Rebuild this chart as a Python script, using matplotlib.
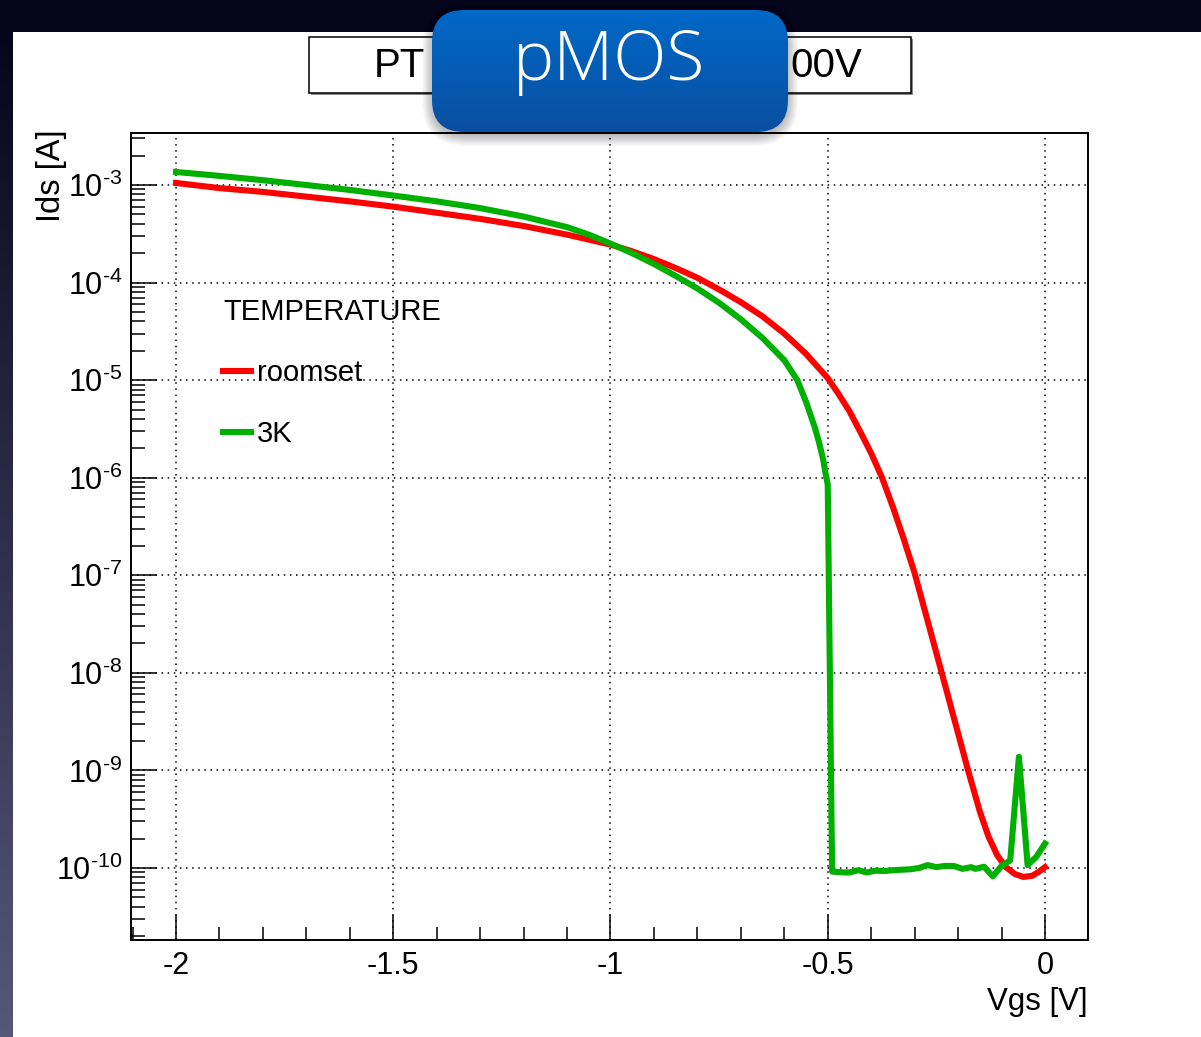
import numpy as np
import matplotlib
matplotlib.use("Agg")
import matplotlib.pyplot as plt
from matplotlib.patches import Rectangle, FancyBboxPatch
from matplotlib.ticker import FixedLocator, MultipleLocator, LogLocator, NullFormatter, FuncFormatter

plt.rcParams['font.family'] = ['Liberation Sans', 'DejaVu Sans']
plt.rcParams['mathtext.fontset'] = 'custom'
plt.rcParams['mathtext.rm'] = 'Liberation Sans'
plt.rcParams['mathtext.it'] = 'Liberation Sans'
plt.rcParams['mathtext.default'] = 'regular'

# ---------------- data ----------------
vgs_room = [-2.0, -1.9, -1.8, -1.7, -1.6, -1.5, -1.4, -1.3, -1.2, -1.1, -1.0,
            -0.95, -0.9, -0.85, -0.8, -0.75, -0.7, -0.65, -0.6, -0.55, -0.5,
            -0.475, -0.45, -0.425, -0.4, -0.375, -0.35, -0.325, -0.3, -0.25,
            -0.2, -0.177, -0.15, -0.13, -0.11, -0.09, -0.07, -0.05, -0.03,
            -0.015, 0.0]
ids_room = [1.05e-3, 9.3e-4, 8.5e-4, 7.6e-4, 6.8e-4, 6.0e-4, 5.2e-4, 4.5e-4,
            3.8e-4, 3.1e-4, 2.45e-4, 2.09e-4, 1.74e-4, 1.41e-4, 1.12e-4, 8.5e-5,
            6.3e-5, 4.5e-5, 3.0e-5, 1.86e-5, 1.05e-5, 7.2e-6, 4.8e-6, 2.95e-6,
            1.78e-6, 1.0e-6, 5.0e-7, 2.35e-7, 1.05e-7, 1.6e-8, 2.4e-9, 1.0e-9,
            3.8e-10, 2.1e-10, 1.35e-10, 1.02e-10, 8.7e-11, 8.1e-11, 8.3e-11,
            9.1e-11, 1.02e-10]

vgs_3k = [-2.0, -1.9, -1.8, -1.7, -1.6, -1.5, -1.4, -1.3, -1.2, -1.1, -1.05,
          -1.0, -0.95, -0.9, -0.85, -0.8, -0.75, -0.7, -0.65, -0.6, -0.57,
          -0.55, -0.53, -0.52, -0.51, -0.505, -0.5, -0.49, -0.48, -0.46, -0.45,
          -0.43, -0.41, -0.39, -0.37, -0.35, -0.33, -0.31, -0.29, -0.27,
          -0.25, -0.23, -0.21, -0.19, -0.17, -0.16, -0.14, -0.12, -0.1,
          -0.08, -0.06, -0.04, -0.02, 0.0]
ids_3k = [1.36e-3, 1.24e-3, 1.12e-3, 1.0e-3, 8.9e-4, 7.8e-4, 6.8e-4, 5.8e-4,
          4.75e-4, 3.7e-4, 3.1e-4, 2.51e-4, 2.0e-4, 1.55e-4, 1.17e-4, 8.7e-5,
          6.2e-5, 4.2e-5, 2.7e-5, 1.6e-5, 1.0e-5, 6.0e-6, 3.3e-6, 2.3e-6,
          1.5e-6, 1.1e-6, 8.5e-7, 9.2e-11, 9.1e-11, 9.0e-11, 9.0e-11, 9.5e-11,
          9.0e-11, 9.4e-11, 9.3e-11, 9.5e-11, 9.6e-11, 9.7e-11, 1.0e-10,
          1.07e-10, 1.02e-10, 1.05e-10, 1.05e-10, 9.8e-11, 1.02e-10, 9.8e-11,
          1.03e-10, 8.2e-11, 1.05e-10, 1.2e-10, 1.38e-9, 1.07e-10, 1.3e-10,
          1.78e-10]

series_labels = ["roomset", "3K"]
series_colors = ["#ff0000", "#00b000"]
legend_title = "TEMPERATURE"
x_ticks = [-2.0, -1.5, -1.0, -0.5, 0.0]
x_ticklabels = ["-2", "-1.5", "-1", "-0.5", "0"]
y_decades = [-10, -9, -8, -7, -6, -5, -4, -3]

W, H = 1201, 1037
fig = plt.figure(figsize=(W / 100, H / 100), dpi=100, facecolor='white')

# ---------------- slide background ----------------
bg = fig.add_axes([0, 0, 1, 1], zorder=-10)
bg.axis('off')
bg.add_patch(Rectangle((0, 0), W, 32, facecolor='#05061a', edgecolor='none'))
grad = np.linspace(0, 1, 256).reshape(-1, 1)
top_c = np.array([0.02, 0.024, 0.10])
bot_c = np.array([0.34, 0.34, 0.47])
img = top_c[None, None, :] * (1 - grad[:, :, None]) + bot_c[None, None, :] * grad[:, :, None]
bg.imshow(img, extent=(0, 12.5, H, 32), aspect='auto', interpolation='bilinear')
bg.set_xlim(0, W)
bg.set_ylim(H, 0)

# title box (partly hidden)
bg.add_patch(Rectangle((311, 39), 602, 56, facecolor='#888888', edgecolor='none'))
bg.add_patch(Rectangle((309, 37), 602, 56, facecolor='white', edgecolor='black', lw=1.1))
bg.text(374, 66, "PT", fontsize=29, ha='left', va='center')
bg.text(862, 66, "00V", fontsize=29, ha='right', va='center')

# ---------------- main plot ----------------
ax = fig.add_axes([131 / W, 1 - 940 / H, (1088 - 131) / W, (940 - 133) / H], zorder=1)
ax.set_facecolor('none')
l1, = ax.plot(vgs_room, ids_room, color=series_colors[0], lw=4.4,
              solid_joinstyle='round', zorder=5)
l2, = ax.plot(vgs_3k, ids_3k, color=series_colors[1], lw=4.4,
              solid_joinstyle='round', zorder=6)
ax.set_yscale('log')
ax.set_xlim(-2.1036, 0.099)
ax.set_ylim(10 ** -10.738, 10 ** -2.467)

ax.xaxis.set_major_locator(FixedLocator(x_ticks))
ax.set_xticklabels(x_ticklabels)
ax.xaxis.set_minor_locator(MultipleLocator(0.1))
ax.yaxis.set_major_locator(FixedLocator([10.0 ** d for d in y_decades]))
ax.yaxis.set_major_formatter(FuncFormatter(
    lambda v, p: r'$\mathdefault{10^{\text{-}%d}}$' % abs(round(np.log10(v)))))
ax.yaxis.set_minor_locator(LogLocator(base=10, subs=np.arange(2, 10), numticks=30))
ax.yaxis.set_minor_formatter(NullFormatter())

ax.tick_params(axis='x', which='major', direction='in', length=18, width=1.1, labelsize=22, pad=8)
ax.tick_params(axis='x', which='minor', direction='in', length=9.5, width=1.1)
ax.tick_params(axis='y', which='major', direction='in', length=19, width=1.1, labelsize=22, pad=6)
ax.tick_params(axis='y', which='minor', direction='in', length=10, width=1.1)
for s in ax.spines.values():
    s.set_linewidth(1.4)
ax.grid(True, which='major', color='black', linestyle=(0, (1, 3)), lw=1.1)

ax.set_xlabel("Vgs [V]", fontsize=22.5, loc='right', labelpad=4)
ax.set_ylabel("Ids [A]", fontsize=23.5, loc='top')
ax.yaxis.set_label_coords((67 - 131) / (1088 - 131), 1.004)

leg = ax.legend([l1, l2], series_labels, title=legend_title, loc='upper left',
                bbox_to_anchor=(223 / W, 1 - 298 / H), bbox_transform=fig.transFigure,
                frameon=False, fontsize=21, title_fontsize=21, alignment='left',
                handlelength=0.95, handletextpad=0.2, labelspacing=1.13,
                borderpad=0, borderaxespad=0)

# ---------------- pMOS badge ----------------
ov = fig.add_axes([0, 0, 1, 1], zorder=20)
ov.axis('off')
bx0, by0, bw, bh, rr = 432, 10, 356, 122, 32
for i in range(12, 0, -1):
    ov.add_patch(FancyBboxPatch((bx0 - i + 2, by0 - i + 6), bw + 2 * i - 4, bh + 2 * i - 4,
                                boxstyle=f"round,pad=0,rounding_size={rr + i}",
                                facecolor='black', edgecolor='none', alpha=0.025, zorder=1))
badge = FancyBboxPatch((bx0, by0), bw, bh, boxstyle=f"round,pad=0,rounding_size={rr}",
                       facecolor='none', edgecolor='none', zorder=2)
ov.add_patch(badge)
bgrad = np.linspace(0, 1, 256).reshape(-1, 1)
c_top = np.array([0.0, 0.41, 0.78])
c_bot = np.array([0.04, 0.31, 0.63])
bimg = c_top[None, None, :] * (1 - bgrad[:, :, None]) + c_bot[None, None, :] * bgrad[:, :, None]
im = ov.imshow(bimg, extent=(bx0, bx0 + bw, by0 + bh, by0), aspect='auto',
               interpolation='bilinear', zorder=3)
im.set_clip_path(badge)
ov.set_xlim(0, W)
ov.set_ylim(H, 0)
ov.text(609, 62, "pMOS", fontsize=50, color='white', ha='center', va='center',
        family=['Open Sans', 'Liberation Sans'], fontweight='light', zorder=4)

fig.savefig("out.png", dpi=100, facecolor='white')
